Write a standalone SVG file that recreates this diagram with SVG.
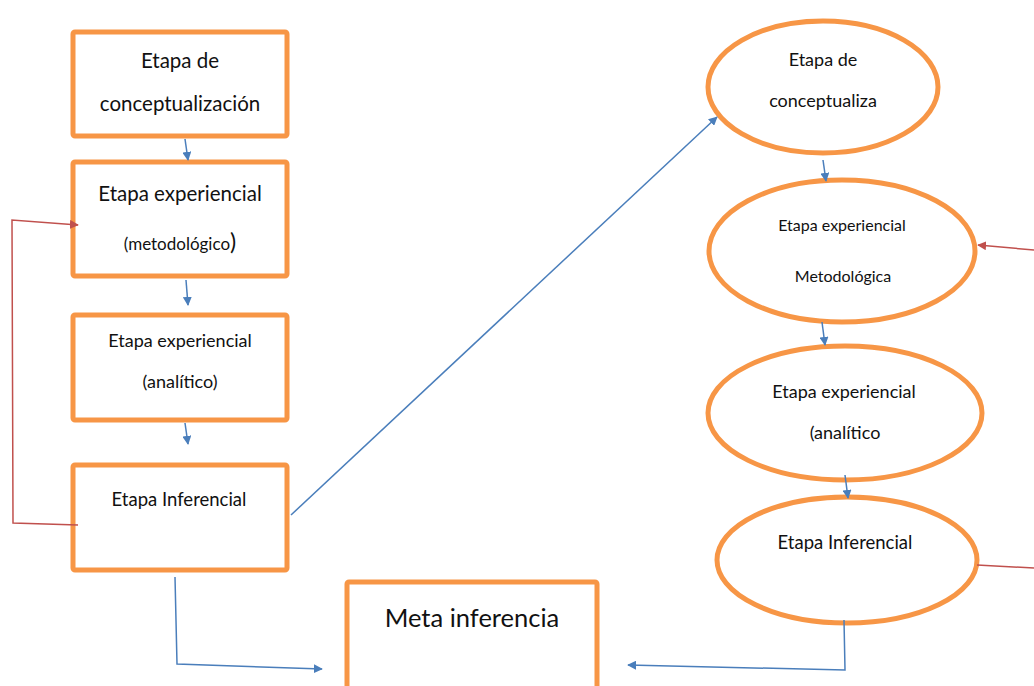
<svg xmlns="http://www.w3.org/2000/svg" width="1034" height="686" viewBox="0 0 1034 686">
  <style>
    .box { fill: #ffffff; stroke: #F79646; stroke-width: 5; }
    .oval { fill: #ffffff; stroke: #F79646; stroke-width: 5; }
    .t { font-family: Lato, "Liberation Sans", sans-serif; fill: #111111; text-anchor: middle; }
    .blue { fill: none; stroke: #4A7EBB; stroke-width: 1.5; }
    .red { fill: none; stroke: #C0504D; stroke-width: 1.5; }
  </style>
  <defs>
    <marker id="ah-blue" viewBox="0 0 10 10" refX="9" refY="5" markerWidth="9" markerHeight="9" markerUnits="userSpaceOnUse" orient="auto">
      <path d="M0,0 L10,5 L0,10 z" fill="#4A7EBB"/>
    </marker>
    <marker id="ah-red" viewBox="0 0 10 10" refX="9" refY="5" markerWidth="9" markerHeight="9" markerUnits="userSpaceOnUse" orient="auto">
      <path d="M0,0 L10,5 L0,10 z" fill="#C0504D"/>
    </marker>
  </defs>
  <rect width="1034" height="686" fill="#ffffff"/>

  <!-- left column: rectangular stages -->
  <g id="box-conceptualizacion">
    <rect class="box" x="73" y="32" width="214" height="104" rx="2"/>
    <text class="t" x="180" y="68" font-size="20.5">Etapa de</text>
    <text class="t" x="180" y="111" font-size="20.5">conceptualización</text>
  </g>
  <g id="box-metodologico">
    <rect class="box" x="73" y="162" width="214" height="114" rx="2"/>
    <text class="t" x="180" y="201" font-size="20.5">Etapa experiencial</text>
    <text class="t" x="180" y="250" font-size="17">(metodológico<tspan font-size="23">)</tspan></text>
  </g>
  <g id="box-analitico">
    <rect class="box" x="73" y="315" width="214" height="105" rx="2"/>
    <text class="t" x="180" y="347" font-size="18">Etapa experiencial</text>
    <text class="t" x="180" y="388" font-size="18">(analítico)</text>
  </g>
  <g id="box-inferencial">
    <rect class="box" x="73" y="465" width="214" height="105" rx="2"/>
    <text class="t" x="179" y="506" font-size="18.5">Etapa Inferencial</text>
  </g>
  <g id="box-meta">
    <rect class="box" x="347" y="582" width="250" height="120" rx="2"/>
    <text class="t" x="472" y="627" font-size="25.5">Meta inferencia</text>
  </g>

  <!-- right column: elliptical stages -->
  <g id="oval-conceptualiza">
    <ellipse class="oval" cx="823" cy="87" rx="115" ry="66"/>
    <text class="t" x="823" y="66" font-size="18">Etapa de</text>
    <text class="t" x="823" y="107" font-size="18">conceptualiza</text>
  </g>
  <g id="oval-metodologica">
    <ellipse class="oval" cx="842" cy="251" rx="133" ry="71"/>
    <text class="t" x="842" y="231" font-size="16">Etapa experiencial</text>
    <text class="t" x="843" y="282" font-size="16">Metodológica</text>
  </g>
  <g id="oval-analitico">
    <ellipse class="oval" cx="845" cy="413" rx="137" ry="67"/>
    <text class="t" x="844" y="398" font-size="18">Etapa experiencial</text>
    <text class="t" x="845" y="439" font-size="18">(analítico</text>
  </g>
  <g id="oval-inferencial">
    <ellipse class="oval" cx="847" cy="560" rx="130" ry="63"/>
    <text class="t" x="845" y="549" font-size="18.5">Etapa Inferencial</text>
  </g>

  <!-- connectors -->
  <g id="connectors">
    <path class="blue" d="M185,139 L188,160" marker-end="url(#ah-blue)"/>
    <path class="blue" d="M186,280 L188,305" marker-end="url(#ah-blue)"/>
    <path class="blue" d="M185,423 L188,444" marker-end="url(#ah-blue)"/>
    <path class="red" d="M78,525 L13,523 L12,220 L78,225" marker-end="url(#ah-red)"/>
    <path class="blue" d="M175,577 L177,664 L322,669" marker-end="url(#ah-blue)"/>
    <path class="blue" d="M291,515 L717,117" marker-end="url(#ah-blue)"/>
    <path class="blue" d="M844,620 L845,670 L628,665" marker-end="url(#ah-blue)"/>
    <path class="blue" d="M823,160 L826,181" marker-end="url(#ah-blue)"/>
    <path class="blue" d="M822,322 L825,345" marker-end="url(#ah-blue)"/>
    <path class="blue" d="M845,475 L848,498" marker-end="url(#ah-blue)"/>
    <path class="red" d="M1034,250 L978,245" marker-end="url(#ah-red)"/>
    <path class="red" d="M977,565 L1034,568"/>
  </g>
</svg>
